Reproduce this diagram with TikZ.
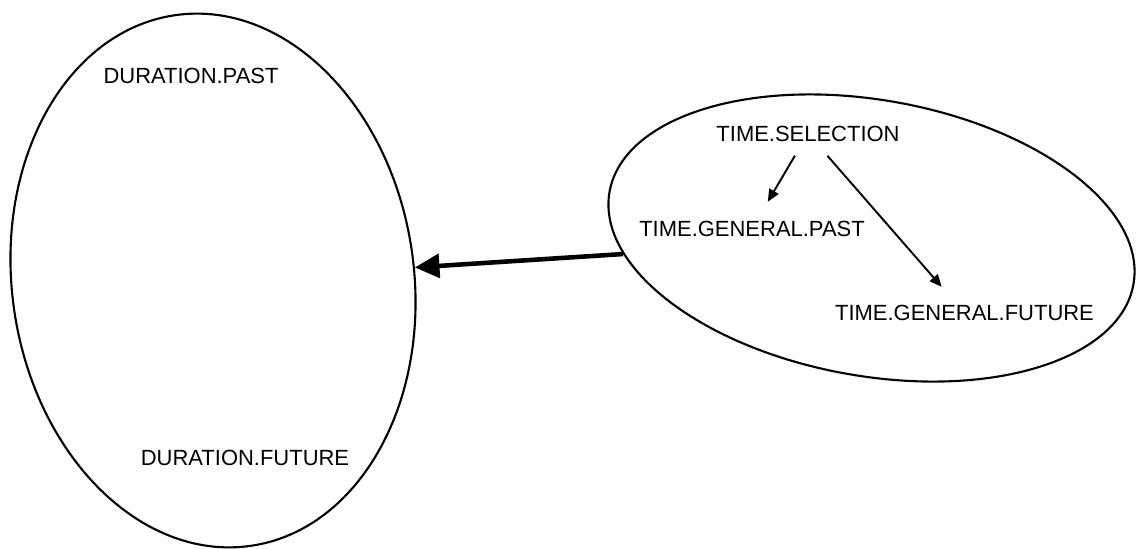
\documentclass[tikz,border=0pt]{standalone}
\usepackage{fontspec}
\setmainfont{Liberation Sans}
\usetikzlibrary{arrows.meta, shapes.geometric}

\begin{document}
\begin{tikzpicture}[
        group/.style={draw, ellipse, line width=1.2pt, inner sep=0pt},
        word/.style={font=\fontsize{12.5}{15}\selectfont, inner xsep=2pt, inner ysep=8pt},
        thinarrow/.style={-{Triangle[length=7pt, width=6pt]}, line width=1.1pt, shorten >=3pt},
        bigarrow/.style={-{Triangle[length=14pt, width=13.5pt]}, line width=2.6pt}
    ]
        \useasboundingbox (0,0) rectangle (22.72,10.96);

        % Duration ellipse
        \node[group, minimum width=8.04cm, minimum height=10.72cm, rotate=8] (dur) at (4.26,5.35) {};
        \node[word] (durpast) at (3.82,9.45) {DURATION.PAST};
        \node[word] (durfut) at (4.90,1.81) {DURATION.FUTURE};

        % Time ellipse
        \node[group, minimum width=10.64cm, minimum height=5.52cm, rotate=-10] (timesel) at (17.43,6.20) {};
        \node[word] (tsel) at (16.16,8.29) {TIME.SELECTION};
        \node[word] (tgpast) at (15.04,6.39) {TIME.GENERAL.PAST};
        \node[word] (tgfut) at (19.29,4.70) {TIME.GENERAL.FUTURE};

        % Links
        \draw[thinarrow] (tsel) -- (tgpast);
        \draw[thinarrow] (tsel) -- (tgfut);
        \draw[bigarrow] (timesel) -- (dur);
    \end{tikzpicture}
\end{document}
